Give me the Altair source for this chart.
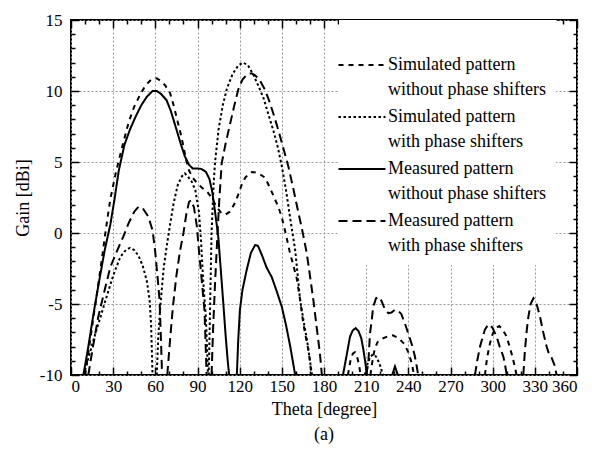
import altair as alt
import pandas as pd

# ---------------- data ----------------
SERIES = [
    "Simulated pattern\nwithout phase shifters",
    "Simulated pattern\nwith phase shifters",
    "Measured pattern\nwithout phase shifters",
    "Measured pattern\nwith phase shifters",
]
DASHES = [[5, 5], [2.5, 2.5], [1, 0], [9, 5]]

# None separates the lobes of one curve
sim_wo_theta = [10, 13, 16, 19, 22, 25, 28, 32, 36, 41, 45, 49, 53, 57, 61, 64, 67, 70.5, 73, 75.5,
                78, 80, 82, 84, 86.5, 89, 93, 97, 100, 103.5, 107, 110, 113, 116, 119, 121.5, 124, 127, 129, 132,
                135, 138, 140.5, 142.8, 145, 147.5, 150, 152.2, 154, 155.8, 158, 160.6, 163, 165.3, 167, 168.8, 170, 171,
                None, 197, 199, 200.5, 202, 203.5, 205, 206,
                None, 213, 214.5, 216, 218, 221, 225, 229, 233, 237, 240, 242.5, 244,
                None, 294.5, 296, 298, 300, 302, 304.7, 307, 310, 312, 313.5, 315.5, 317]
sim_wo_gain = [-10, -8, -5.9, -3.9, -1.8, 0.4, 2.4, 4.3, 5.9, 7.8, 8.9, 9.7, 10.4, 10.8, 10.9, 10.7, 10.4, 9.85, 9.0, 8.0,
               7.0, 6.1, 5.1, 4.4, 3.9, 3.6, 3.2, 2.9, 2.5, 1.85, 1.4, 1.3, 1.5, 2.0, 2.7, 3.4, 3.9, 4.2, 4.3, 4.25,
               4.1, 3.9, 3.4, 2.9, 2.4, 1.85, 1.1, 0.2, -0.6, -1.4, -2.2, -3.2, -4.7, -6.4, -7.3, -8.2, -9.0, -10,
               None, -10, -8.9, -8.5, -8.4, -8.7, -9.3, -10,
               None, -10, -9, -8.2, -7.7, -7.45, -7.3, -7.2, -7.4, -7.8, -8.4, -9.2, -10,
               None, -10, -8.8, -7.8, -7.1, -6.7, -6.55, -6.8, -7.3, -8.0, -8.5, -9.3, -10]

sim_with_theta = [9, 13, 17, 21, 25, 30, 35, 39, 42, 45, 48, 51, 54, 56, 57, 58,
                  None, 61, 62, 63.5, 66, 68, 70.5, 73, 76, 79, 81, 83, 86, 88.5, 91, 92.5, 94, 96, 97.5,
                  None, 98, 99, 100, 101.5, 102.5, 105, 108, 111, 115, 119, 122.5, 126, 130, 134, 137, 140, 144,
                  147, 150, 153, 156, 159.5, 163, 166, 168, 170, 171.5,
                  None, 209, 211, 213, 215, 217, 219.5, 222]
sim_with_gain = [-10, -8.6, -7.2, -5.9, -4.6, -3.0, -1.7, -1.2, -1.05, -1.2, -1.6, -2.3, -3.4, -4.8, -6.5, -10,
                 None, -10, -7.5, -5.2, -2.4, -1.0, 0.6, 2.1, 3.4, 4.0, 4.2, 4.0, 3.6, 3.0, 1.5, -0.5, -3.3, -6, -10,
                 None, -10, -5, 0, 3.5, 5, 7.3, 9, 10.2, 11.2, 11.8, 12.0, 11.8, 11.1, 10.2, 9.5, 8.5, 7.2,
                 6.1, 4.7, 3.0, 1.0, -1.2, -4.7, -6.5, -7.6, -9, -10,
                 None, -10, -9.2, -8.7, -8.55, -8.7, -9.2, -10]

meas_wo_theta = [8.8, 12, 16, 20, 24, 28, 31, 34, 38, 42, 46, 50, 54, 58, 61, 64, 68, 71, 75, 78,
                 81, 84, 86.5, 90, 93, 96, 98.5, 100.5, 102.5, 104.8, 106.5, 108.4, 110, 111.5, 112.5,
                 None, 118, 119, 120.2, 122, 125, 128, 131, 133, 136, 139, 142.8, 146, 150, 153, 156, 159.5,
                 None, 193.5, 195, 196.5, 198.5, 200.5, 202.5, 204.5, 206.5, 208, 209.5, 210.5,
                 None, 228.5, 230.5, 232.5]
meas_wo_gain = [-10, -8.2, -5.7, -3.4, -1.2, 0.6, 2.4, 4.4, 6.2, 7.3, 8.2, 9.0, 9.6, 10.0, 10.0, 9.8, 9.35, 8.6, 7.3, 6.3,
                5.4, 4.8, 4.55, 4.55, 4.5, 4.3, 3.8, 2.9, 1.5, -0.3, -2.5, -5, -7.2, -9, -10,
                None, -10, -7.5, -5.4, -4.0, -2.6, -1.4, -0.85, -0.9, -1.6, -2.4, -3.1, -4.0, -5.2, -6.5, -8, -10,
                None, -10, -9.2, -8.4, -7.3, -6.85, -6.7, -6.9, -7.4, -8.2, -9.2, -10,
                None, -10, -9.4, -10]

meas_with_theta = [12.3, 16, 19.4, 24, 28, 33, 37.2, 41, 45, 48, 51, 55, 58, 59.8, 61.5, 63, 64, 64.8,
                   None, 68.5, 70.5, 72.5, 75, 77.5, 80, 82, 84, 85.5, 87.5, 89.5, 91, 93, 95, 96.5,
                   None, 100, 101, 102.5, 104, 105.5, 107.2, 110, 113, 116, 119, 122, 125, 128.5, 131, 134, 138,
                   141, 144, 147.5, 151, 154.6, 158, 161, 164.5, 167.7, 170, 172.4, 175, 177, 178.5,
                   None, 210, 211.5, 212.7, 214, 215, 217, 219, 221, 223, 225.8, 228, 230.5, 233, 235, 238, 240,
                   243, 244.7, 246, 247,
                   None, 287.4, 289, 291, 293, 294.5, 296.5, 298, 300, 302.8, 305, 307.6, 309, 310,
                   None, 321.8, 323, 324.3, 325.4, 327, 329, 331, 333.7, 336, 338.4, 340, 342, 344, 345.5]
meas_with_gain = [-10, -7.8, -5.9, -4.0, -2.4, -1.2, -0.26, 0.7, 1.5, 1.85, 1.75, 1.15, 0.2, -1.2, -3.0, -4.7, -7.5, -10,
                  None, -10, -7.5, -5.2, -3.0, -1.3, 0.0, 1.3, 2.2, 2.3, 1.8, 0.5, -1.2, -3.3, -5.5, -10,
                  None, -10, -7, -3.5, -0.5, 2.3, 4.9, 6.3, 7.6, 8.9, 10.1, 10.8, 11.15, 11.25, 11.1, 10.8, 10.1,
                  9.3, 8.4, 7.25, 6.0, 4.7, 3.2, 1.8, 0.2, -1.4, -3.0, -4.7, -6.8, -8.4, -10,
                  None, -10, -9.2, -7.1, -6.1, -5.2, -4.6, -4.5, -4.8, -5.3, -5.65, -5.6, -5.4, -5.5, -5.7, -6.5, -7.1,
                  -8.0, -8.7, -9.4, -10,
                  None, -10, -9.0, -8.0, -7.3, -6.8, -6.5, -6.45, -6.7, -7.3, -8.0, -8.7, -9.4, -10,
                  None, -10, -8.2, -6.8, -5.9, -5.0, -4.6, -4.9, -5.9, -7.0, -8.0, -8.5, -8.8, -9.3, -10]

X_MAJOR = list(range(0, 361, 30))
X_ALL = list(range(0, 361, 10))
Y_MAJOR = list(range(-10, 16, 5))
Y_ALL = list(range(-10, 16, 1))

# ---------------- table ----------------
rows = []
for name, th, g in zip(SERIES,
                       [sim_wo_theta, sim_with_theta, meas_wo_theta, meas_with_theta],
                       [sim_wo_gain, sim_with_gain, meas_wo_gain, meas_with_gain]):
    seg = 0
    for t, v in zip(th, g):
        if t is None:
            seg += 1
            continue
        rows.append({"series": name, "seg": f"{name}-{seg}", "theta": t, "gain": v})
df = pd.DataFrame(rows)

W, H = 506, 355
FONT = "Liberation Serif"

xs = alt.Scale(domain=[0, 360], nice=False, zero=False)
ys = alt.Scale(domain=[-10, 15], nice=False, zero=False)

xtick = {"condition": {"test": "datum.value % 30 === 0", "value": 8}, "value": 4}
ytick = {"condition": {"test": "datum.value % 5 === 0", "value": 8}, "value": 4}

grid_common = dict(grid=True, gridDash=[2, 2], gridColor="#999999", gridWidth=1,
                   domain=False, ticks=False, tickSize=0)
ax_x_main = alt.Axis(orient="bottom", values=X_MAJOR, labelExpr="'' + datum.value",
                     labelPadding=3, title="Theta [degree]", titlePadding=6, **grid_common)
ax_y_main = alt.Axis(orient="left", values=Y_MAJOR, labelExpr="'' + datum.value",
                     labelPadding=9, title="Gain [dBi]", titlePadding=7, **grid_common)

tick_common = dict(labels=False, grid=False, domain=False, ticks=True,
                   tickColor="black", tickWidth=1.5, title=None)
ax_x_bot_in = alt.Axis(orient="top", offset=-H, values=X_ALL, tickSize=xtick, **tick_common)
ax_x_top_in = alt.Axis(orient="bottom", offset=-H, values=X_ALL, tickSize=xtick, **tick_common)
ax_y_left_in = alt.Axis(orient="right", offset=-W, values=Y_ALL, tickSize=ytick, **tick_common)
ax_y_right_in = alt.Axis(orient="left", offset=-W, values=Y_ALL, tickSize=ytick, **tick_common)

# symbol path twice as wide as the unit box: a 47 px stroke from a small symbol
legend = alt.Legend(
    title="\u00a0", titleFontSize=18, titlePadding=4,
    orient="none", legendX=268, legendY=0,
    padding=10, fillColor="white",
    symbolType="M-2,0H2", symbolSize=552, symbolStrokeWidth=2,
    symbolStrokeColor="black",
    labelExpr="split(datum.label, '\\n')", labelBaseline="middle",
    labelFont=FONT, labelFontSize=18, labelColor="black", labelOffset=13, labelLimit=0,
    rowPadding=5,
)

lines = alt.Chart(df).mark_line(strokeWidth=2, color="black", clip=True).encode(
    x=alt.X("theta:Q", scale=xs, axis=ax_x_main),
    y=alt.Y("gain:Q", scale=ys, axis=ax_y_main),
    detail="seg:N",
    strokeDash=alt.StrokeDash("series:N", scale=alt.Scale(domain=SERIES, range=DASHES), legend=legend),
)

ticks_a = alt.Chart(df).mark_point(opacity=0).encode(
    x=alt.X("theta:Q", scale=xs, axis=ax_x_bot_in),
    y=alt.Y("gain:Q", scale=ys, axis=ax_y_left_in),
)
ticks_b = alt.Chart(df).mark_point(opacity=0).encode(
    x=alt.X("theta:Q", scale=xs, axis=ax_x_top_in),
    y=alt.Y("gain:Q", scale=ys, axis=ax_y_right_in),
)

chart = alt.layer(lines, ticks_a, ticks_b).resolve_axis(
    x="independent", y="independent"
).properties(
    width=W, height=H,
    autosize=alt.AutoSizeParams(type="none"),
    padding={"left": 71, "top": 20, "right": 15, "bottom": 81},
    title=alt.TitleParams(text="(a)", orient="bottom", anchor="middle", font=FONT,
                          fontSize=18, fontWeight="normal", color="black", offset=8),
).configure(
    style={"guide-label": {"lineHeight": 25}}
).configure_view(
    stroke="black", strokeWidth=2
).configure_axis(
    labelFont=FONT, labelFontSize=17, labelColor="black",
    titleFont=FONT, titleFontSize=18, titleFontWeight="normal", titleColor="black",
)

chart.save("out.html", embed_options={"renderer": "svg", "actions": False})
